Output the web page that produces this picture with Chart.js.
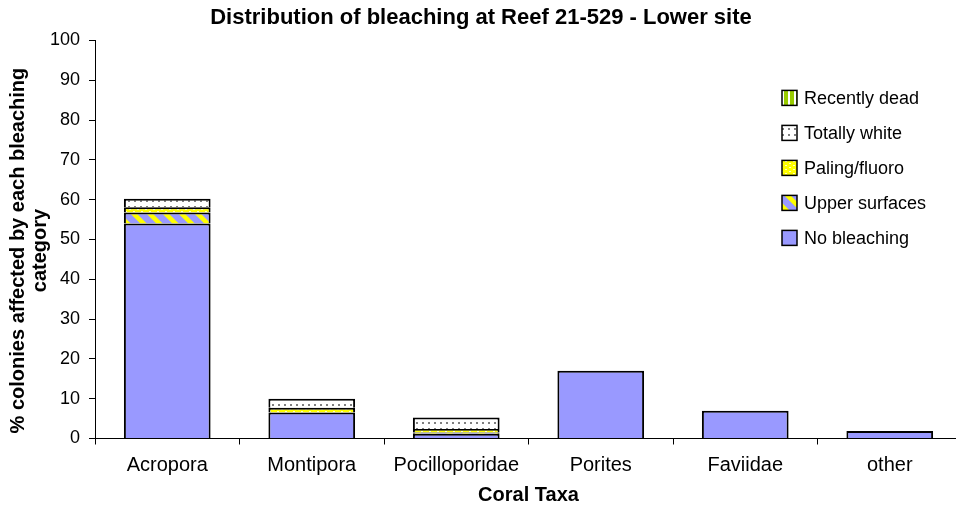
<!DOCTYPE html>
<html>
<head>
<meta charset="utf-8">
<script src="https://cdn.jsdelivr.net/npm/chart.js@4.4.0/dist/chart.umd.min.js"></script>
<style>
  html, body { margin: 0; padding: 0; background: #fff; overflow: hidden; }
  /* the Excel plot area runs a few pixels past the picture's right edge */
  #wrap { width: 962px; height: 511px; }
</style>
</head>
<body>
<div id="wrap"><canvas id="bleachChart"></canvas></div>
<script>
// Coral taxa along the x axis
const taxa = ['Acropora', 'Montipora', 'Pocilloporidae', 'Porites', 'Faviidae', 'other'];

// % colonies in each bleaching category
const noBleaching   = [54.0, 6.5, 1.2, 17.0, 7.0, 1.9];
const upperSurfaces = [2.8, 0, 0.3, 0, 0, 0];
const palingFluoro  = [1.3, 1.2, 0.9, 0, 0, 0];
const totallyWhite  = [2.1, 2.3, 2.9, 0, 0, 0];
const recentlyDead  = [0, 0, 0, 0, 0, 0];

// y axis range
const yMin = 0;
const yMax = 100;
const yStep = 10;

const FONT = '"Liberation Sans", Arial, sans-serif';

// small repeating fills, like the Excel hatches
function makePattern(w, h, paint) {
  const c = document.createElement('canvas');
  c.width = w;
  c.height = h;
  const g = c.getContext('2d');
  paint(g, w, h);
  return g.createPattern(c, 'repeat');
}

const blue = '#9999FF';

const upperFill = makePattern(16, 16, (g, w, h) => {
  g.fillStyle = blue;
  g.fillRect(0, 0, w, h);
  g.strokeStyle = '#FFFF00';
  g.lineWidth = 4.5;
  g.beginPath();
  for (const k of [-16, 0, 16]) {
    g.moveTo(k - 2, -2);
    g.lineTo(k + 18, 18);
  }
  g.stroke();
});

const palingFill = makePattern(8, 4, (g, w, h) => {
  g.fillStyle = '#FFFF00';
  g.fillRect(0, 0, w, h);
  g.fillStyle = '#FFFFC8';
  g.fillRect(1, 1, 2, 1);
  g.fillRect(5, 3, 2, 1);
});

const whiteFill = makePattern(6, 6, (g, w, h) => {
  g.fillStyle = '#FFFFFF';
  g.fillRect(0, 0, w, h);
  g.fillStyle = '#808080';
  g.fillRect(2, 2, 2, 2);
});

const deadFill = makePattern(6, 6, (g, w, h) => {
  g.fillStyle = '#99CC00';
  g.fillRect(0, 0, w, h);
  g.fillStyle = '#FFFFFF';
  g.fillRect(2, 0, 2, h);
});

// legend drawn inside the plot, top-right, last series first
const insideLegend = {
  id: 'insideLegend',
  afterDraw(chart) {
    const { ctx, chartArea } = chart;
    const sets = chart.data.datasets;
    ctx.save();
    ctx.font = '18px ' + FONT;
    ctx.textBaseline = 'middle';
    ctx.textAlign = 'left';
    const x = chartArea.right - 180;
    let y = chartArea.top + 57.5;
    for (let i = sets.length - 1; i >= 0; i--) {
      ctx.fillStyle = sets[i].backgroundColor;
      ctx.fillRect(x, y - 7.5, 15, 15);
      ctx.strokeStyle = '#000';
      ctx.lineWidth = 1.5;
      ctx.strokeRect(x, y - 7.5, 15, 15);
      ctx.fillStyle = '#000';
      ctx.fillText(sets[i].label, x + 22, y + 1);
      y += 35;
    }
    ctx.restore();
  },
};

// trailing spaces nudge the centred y title down, as Excel placed it
const yTitle = ['% colonies affected by each bleaching    ', 'category    '];

const ctx = document.getElementById('bleachChart');
new Chart(ctx, {
  type: 'bar',
  data: {
    labels: taxa,
    datasets: [
      { label: 'No bleaching', data: noBleaching, backgroundColor: blue },
      { label: 'Upper surfaces', data: upperSurfaces, backgroundColor: upperFill },
      { label: 'Paling/fluoro', data: palingFluoro, backgroundColor: palingFill },
      { label: 'Totally white', data: totallyWhite, backgroundColor: whiteFill },
      { label: 'Recently dead', data: recentlyDead, backgroundColor: deadFill },
    ],
  },
  options: {
    responsive: true,
    maintainAspectRatio: false,
    animation: false,
    layout: { padding: 0 },
    datasets: {
      bar: {
        barPercentage: 0.6,
        categoryPercentage: 1,
        borderColor: '#000',
        borderWidth: 2,
        borderSkipped: 'bottom',
      },
    },
    plugins: {
      legend: { display: false },
      tooltip: { enabled: false },
      title: {
        display: true,
        text: 'Distribution of bleaching at Reef 21-529 - Lower site',
        color: '#000',
        font: { family: FONT, size: 22, weight: 'bold' },
        padding: { top: 5, bottom: 9 },
      },
    },
    scales: {
      x: {
        stacked: true,
        afterFit: (scale) => { scale.height = 72.5; },
        border: { color: '#000', width: 1 },
        grid: { drawOnChartArea: false, color: '#000', tickLength: 6 },
        ticks: { color: '#000', padding: 9, font: { family: FONT, size: 20 } },
        title: {
          display: true,
          text: 'Coral Taxa',
          color: '#000',
          font: { family: FONT, size: 20, weight: 'bold' },
          padding: { top: 0, bottom: 4 },
        },
      },
      y: {
        stacked: true,
        min: yMin,
        max: yMax,
        afterFit: (scale) => { scale.width = 95; },
        border: { color: '#000', width: 1 },
        grid: { drawOnChartArea: false, color: '#000', tickLength: 6 },
        ticks: { stepSize: yStep, color: '#000', padding: 9, font: { family: FONT, size: 18 } },
        title: {
          display: true,
          text: yTitle,
          color: '#000',
          font: { family: FONT, size: 20, weight: 'bold', lineHeight: 1.1 },
          padding: { top: 7, bottom: 0 },
        },
      },
    },
  },
  plugins: [insideLegend],
});
</script>
</body>
</html>
